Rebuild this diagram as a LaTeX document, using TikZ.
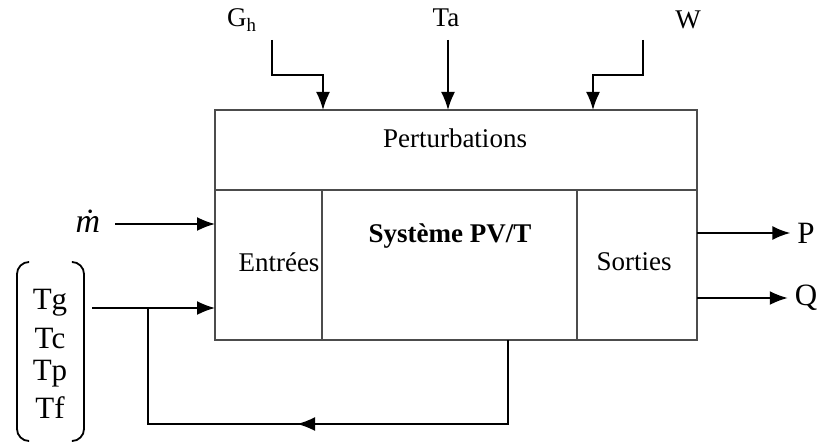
\documentclass[tikz,border=0pt]{standalone}
\usepackage{fontspec}
\setmainfont{Liberation Serif}
\usetikzlibrary{arrows.meta}

\tikzset{
    fleche/.style={-{Latex[length=9pt,width=7pt]}, line width=0.9pt},
    trait/.style={line width=0.9pt},
    bloc/.style={draw=black!70, line width=1pt},
    etiq/.style={font=\fontsize{13.5}{16}\selectfont},
    grand/.style={font=\fontsize{15.5}{18}\selectfont}
}

\begin{document}
\begin{tikzpicture}[x=0.5pt, y=-0.5pt]
    \useasboundingbox (0,0) rectangle (818,444);

    % bornes du bloc
    \def\xg{215}
    \def\xe{322}
    \def\xs{577}
    \def\xd{697}
    \def\yh{110}
    \def\ym{190}
    \def\yb{340}

    \draw[bloc] (\xg,\yh) rectangle (\xd,\yb);
    \draw[bloc] (\xg,\ym) -- (\xd,\ym);
    \draw[bloc] (\xe,\ym) -- (\xe,\yb);
    \draw[bloc] (\xs,\ym) -- (\xs,\yb);

    \node[etiq] (pert) at (455,138) {Perturbations};
    \node[etiq, font=\fontsize{13.5}{16}\selectfont\bfseries] (sys) at (450,236) {Système PV/T};
    \node[etiq] (entr) at (279,262) {Entrées};
    \node[etiq] (sort) at (634,262) {Sorties};

    % perturbations
    \node[etiq] (gh) at (242,20) {G\textsubscript{h}};
    \node[etiq] (ta) at (446,18) {Ta};
    \node[etiq] (w) at (688,20) {W};

    \coordinate (gh0) at (272,40);
    \coordinate (gh1) at (323,\yh);
    \coordinate (ta0) at (448,40);
    \coordinate (ta1) at (448,\yh);
    \coordinate (w0) at (643,40);
    \coordinate (w1) at (593,\yh);

    \draw[fleche] (gh0) |- (297,75) -| (gh1);
    \draw[fleche] (ta0) -- (ta1);
    \draw[fleche] (w0) |- (618,75) -| (w1);

    % entrees
    \node[grand, font=\fontsize{17}{18}\selectfont\itshape] (mdot) at (88,221) {ṁ};
    \coordinate (m0) at (115,224);
    \coordinate (m1) at (\xg,224);
    \draw[fleche] (m0) -- (m1);

    \node[grand] (tg) at (50,303) {Tg};
    \node[grand] (tc) at (50,338) {Tc};
    \node[grand] (tp) at (50,374) {Tp};
    \node[grand] (tf) at (50,408) {Tf};

    \draw[trait, rounded corners=6pt] (28,262) -- (17,262) -- (17,441) -- (28,441);
    \draw[trait, rounded corners=6pt] (73,262) -- (84,262) -- (84,441) -- (73,441);

    \coordinate (t0) at (92,308);
    \coordinate (t1) at (\xg,308);
    \coordinate (nd) at (148,308);
    \draw[fleche] (t0) -- (t1);

    % retour
    \coordinate (r0) at (508,\yb);
    \coordinate (rf) at (297,424);
    \draw[trait] (r0) |- (rf) -| (nd);
    \draw[fleche] (345,424) -- (rf);

    % sorties
    \node[grand] (p) at (806,233) {P};
    \node[grand] (q) at (806,298) {Q};
    \draw[fleche] (\xd,233) -- (p.west);
    \draw[fleche] (\xd,298) -- (q.west);
\end{tikzpicture}
\end{document}
